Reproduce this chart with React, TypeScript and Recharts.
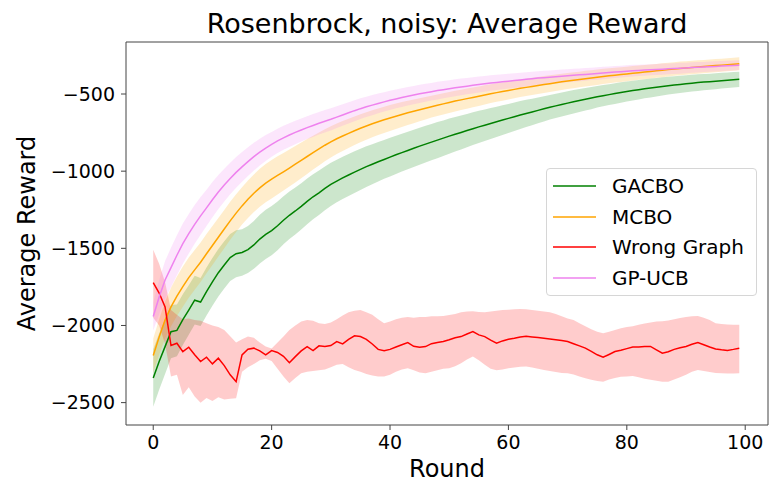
import {
  Area,
  ComposedChart,
  Label,
  Legend,
  Line,
  ReferenceArea,
  XAxis,
  YAxis,
} from "recharts";

// mean reward per round (0..99)
const GACBO_MEAN = [
  -2340, -2234, -2137, -2040, -2032, -1962, -1900, -1836, -1848, -1780,
  -1718, -1658, -1608, -1560, -1535, -1527, -1508, -1478, -1440, -1410,
  -1385, -1354, -1318, -1286, -1258, -1228, -1196, -1166, -1140, -1112,
  -1085, -1064, -1044, -1025, -1006, -988, -971, -955, -939, -924,
  -909, -894, -880, -866, -852, -838, -825, -812, -799, -786,
  -773, -761, -749, -737, -725, -713, -702, -691, -680, -669,
  -658, -647, -636, -626, -616, -606, -596, -586, -577, -568,
  -559, -550, -542, -534, -526, -518, -511, -504, -497, -490,
  -484, -478, -472, -466, -461, -456, -451, -446, -442, -438,
  -434, -430, -426, -423, -420, -417, -414, -411, -408, -405,
];
const GACBO_SD = [
  186, 182, 178, 172, 168, 164, 160, 158, 156, 155,
  155, 154, 153, 152, 152, 150, 152, 155, 158, 160,
  160, 158, 156, 154, 152, 150, 148, 146, 144, 142,
  140, 138, 137, 136, 135, 134, 132, 130, 128, 126,
  125, 124, 123, 122, 121, 120, 119, 118, 117, 115,
  114, 112, 110, 108, 106, 104, 102, 100, 98, 96,
  94, 92, 90, 88, 86, 84, 82, 80, 79, 78,
  77, 76, 75, 73, 72, 70, 69, 68, 67, 66,
  65, 64, 63, 62, 61, 60, 59, 58, 57, 56,
  55, 54, 54, 53, 52, 52, 51, 50, 50, 50,
];

const MCBO_MEAN = [
  -2195, -2075, -1965, -1880, -1810, -1748, -1690, -1640, -1590, -1535,
  -1482, -1428, -1375, -1322, -1272, -1225, -1182, -1143, -1108, -1078,
  -1052, -1028, -1004, -980, -955, -930, -905, -880, -856, -832,
  -810, -790, -772, -755, -738, -722, -707, -693, -680, -667,
  -655, -644, -633, -622, -612, -602, -592, -582, -573, -564,
  -555, -546, -538, -530, -522, -514, -506, -498, -491, -484,
  -477, -470, -463, -457, -451, -445, -439, -433, -427, -421,
  -416, -411, -406, -401, -396, -391, -386, -382, -378, -374,
  -370, -366, -362, -358, -354, -350, -346, -342, -338, -334,
  -331, -328, -325, -322, -319, -316, -313, -310, -307, -304,
];
const MCBO_SD = [
  110, 115, 120, 125, 128, 130, 130, 129, 128, 127,
  126, 125, 124, 123, 122, 121, 121, 122, 123, 124,
  125, 124, 122, 120, 118, 116, 113, 110, 107, 104,
  101, 99, 97, 95, 93, 91, 89, 87, 86, 85,
  84, 83, 81, 79, 77, 75, 73, 71, 70, 69,
  68, 67, 66, 65, 64, 63, 62, 61, 60, 59,
  58, 57, 57, 56, 56, 55, 55, 54, 54, 53,
  52, 52, 51, 51, 50, 50, 49, 49, 48, 48,
  47, 47, 46, 46, 46, 45, 45, 45, 44, 44,
  44, 44, 43, 43, 43, 43, 42, 42, 42, 42,
];

const WRONG_MEAN = [
  -1722, -1790, -1880, -2130, -2115, -2170, -2141, -2190, -2234, -2206,
  -2249, -2212, -2260, -2320, -2364, -2191, -2154, -2147, -2165, -2191,
  -2163, -2175, -2200, -2241, -2202, -2165, -2137, -2163, -2132, -2137,
  -2130, -2104, -2119, -2090, -2067, -2072, -2090, -2120, -2155, -2163,
  -2155, -2140, -2125, -2111, -2135, -2141, -2137, -2118, -2110, -2104,
  -2093, -2080, -2072, -2055, -2040, -2061, -2072, -2095, -2115, -2100,
  -2090, -2083, -2075, -2070, -2074, -2078, -2083, -2088, -2093, -2098,
  -2104, -2118, -2132, -2147, -2168, -2190, -2206, -2188, -2169, -2160,
  -2150, -2140, -2139, -2137, -2136, -2158, -2180, -2170, -2155, -2145,
  -2136, -2122, -2110, -2125, -2140, -2153, -2158, -2162, -2155, -2147,
];
const WRONG_HI = [
  -1510, -1600, -1720, -1900, -1930, -1960, -1955, -1964, -1970, -1985,
  -2000, -2010, -2030, -2070, -2110, -2089, -2072, -2080, -2110, -2137,
  -2150, -2110, -2072, -2029, -2000, -1975, -1964, -1970, -1985, -1990,
  -1980, -1960, -1935, -1915, -1905, -1900, -1915, -1930, -1960, -1985,
  -1975, -1960, -1950, -1945, -1950, -1945, -1945, -1940, -1940, -1938,
  -1932, -1925, -1915, -1910, -1908, -1912, -1915, -1910, -1905, -1900,
  -1898, -1895, -1893, -1895, -1900, -1905, -1910, -1915, -1925, -1940,
  -1955, -1965, -1985, -2005, -2025, -2040, -2050, -2040, -2029, -2018,
  -2010, -2005, -1996, -1988, -1980, -1975, -1972, -1968, -1960, -1952,
  -1945, -1940, -1938, -1950, -1965, -1985, -1990, -1993, -1995, -1996,
];
const WRONG_LO = [
  -1950, -2000, -2120, -2330, -2320, -2450, -2400, -2460, -2500, -2470,
  -2490, -2465, -2480, -2475, -2472, -2300, -2270, -2250, -2225, -2215,
  -2230, -2280, -2330, -2374, -2340, -2310, -2300, -2295, -2290, -2285,
  -2270, -2255, -2250, -2270, -2288, -2300, -2315, -2325, -2331, -2330,
  -2320, -2300, -2285, -2277, -2290, -2305, -2310, -2300, -2290, -2280,
  -2277, -2265, -2245, -2220, -2201, -2225, -2255, -2280, -2290, -2285,
  -2278, -2272, -2268, -2266, -2272, -2280, -2288, -2295, -2302, -2308,
  -2310, -2318, -2330, -2342, -2352, -2360, -2364, -2350, -2340, -2333,
  -2331, -2328, -2335, -2345, -2352, -2358, -2364, -2364, -2350, -2335,
  -2320, -2300, -2288, -2295, -2302, -2308, -2310, -2312, -2311, -2310,
];

const GPUCB_MEAN = [
  -1942, -1815, -1705, -1625, -1545, -1470, -1405, -1345, -1290, -1238,
  -1185, -1135, -1090, -1048, -1008, -972, -938, -906, -877, -850,
  -826, -804, -784, -766, -749, -733, -718, -704, -690, -677,
  -664, -650, -636, -622, -608, -595, -583, -572, -561, -551,
  -541, -532, -523, -515, -507, -499, -492, -485, -478, -472,
  -466, -460, -454, -449, -444, -439, -434, -429, -425, -421,
  -417, -413, -409, -405, -401, -397, -394, -391, -388, -385,
  -382, -379, -376, -373, -370, -367, -364, -361, -358, -355,
  -352, -349, -347, -345, -343, -341, -339, -337, -335, -333,
  -331, -329, -327, -325, -323, -321, -319, -317, -315, -313,
];
const GPUCB_SD = [
  90, 110, 122, 128, 130, 130, 128, 125, 122, 118,
  114, 110, 106, 102, 99, 96, 93, 90, 87, 84,
  80, 79, 78, 77, 76, 75, 74, 74, 73, 73,
  72, 71, 70, 69, 68, 67, 66, 65, 64, 63,
  62, 61, 61, 60, 59, 59, 58, 57, 57, 56,
  55, 55, 54, 53, 53, 52, 51, 50, 49, 49,
  48, 48, 47, 46, 46, 45, 45, 44, 43, 43,
  42, 42, 41, 41, 40, 40, 40, 39, 39, 38,
  38, 38, 37, 37, 36, 36, 36, 35, 35, 35,
  34, 34, 34, 33, 33, 33, 33, 32, 32, 32,
];

const SERIES_NAMES = ["GACBO", "MCBO", "Wrong Graph", "GP-UCB"];
const X_TICKS = [0, 20, 40, 60, 80, 100];
const Y_TICKS = [-2500, -2000, -1500, -1000, -500];
const X_DOMAIN: [number, number] = [-4.6, 103.85];
const Y_DOMAIN: [number, number] = [-2645, -163];

const FONT = "'DejaVu Sans', sans-serif";
const AXIS_COLOR = "#444";

const rows = GACBO_MEAN.map((_, round) => ({
  round,
  gacbo: GACBO_MEAN[round],
  gacboBand: [GACBO_MEAN[round] - GACBO_SD[round], GACBO_MEAN[round] + GACBO_SD[round]],
  mcbo: MCBO_MEAN[round],
  mcboBand: [MCBO_MEAN[round] - MCBO_SD[round], MCBO_MEAN[round] + MCBO_SD[round]],
  wrong: WRONG_MEAN[round],
  wrongBand: [WRONG_LO[round], WRONG_HI[round]],
  gpucb: GPUCB_MEAN[round],
  gpucbBand: [GPUCB_MEAN[round] - GPUCB_SD[round], GPUCB_MEAN[round] + GPUCB_SD[round]],
}));

const minus = (v: number) => (v < 0 ? "\u2212" + Math.abs(v) : String(v));

interface LegendItem {
  value: string;
  color: string;
  type?: string;
}

function LegendBox({ payload }: { payload?: LegendItem[] }) {
  // keep plotting order, not recharts' alphabetical one
  const items = (payload || [])
    .filter((p) => p.type !== "none")
    .sort((a, b) => SERIES_NAMES.indexOf(a.value) - SERIES_NAMES.indexOf(b.value));
  return (
    <div
      style={{
        width: 211,
        height: 128,
        boxSizing: "border-box",
        border: "1px solid #d6d6d6",
        borderRadius: 4,
        background: "rgba(255,255,255,0.85)",
        paddingTop: 2,
        fontFamily: FONT,
        fontSize: 20,
        color: "#000",
      }}
    >
      {items.map((item) => (
        <div key={item.value} style={{ display: "flex", alignItems: "center", height: 30.5 }}>
          <svg width={43} height={4} style={{ marginLeft: 6, flex: "none" }}>
            <line x1={0} y1={2} x2={43} y2={2} stroke={item.color} strokeWidth={1.5} />
          </svg>
          <span style={{ marginLeft: 16, whiteSpace: "nowrap" }}>{item.value}</span>
        </div>
      ))}
    </div>
  );
}

function YLabel(props: any) {
  const { viewBox } = props;
  const cy = viewBox.y + viewBox.height / 2;
  return (
    <text
      x={35}
      y={cy}
      transform={`rotate(-90, 35, ${cy})`}
      textAnchor="middle"
      fontSize={24}
      fontFamily={FONT}
      fill="#000"
    >
      Average Reward
    </text>
  );
}

export default function App() {
  return (
    <div
      style={{
        position: "absolute",
        left: 0,
        top: 0,
        width: 773,
        height: 482,
        background: "#fff",
        fontFamily: FONT,
      }}
    >
      <div
        style={{
          position: "absolute",
          left: 147,
          top: 10,
          width: 600,
          textAlign: "center",
          fontSize: 27,
          lineHeight: 1,
          color: "#000",
          zIndex: 2,
        }}
      >
        Rosenbrock, noisy: Average Reward
      </div>
      <ComposedChart
        width={773}
        height={482}
        data={rows}
        margin={{ top: 42, right: 5, bottom: 0, left: 0 }}
      >
        <XAxis
          dataKey="round"
          type="number"
          domain={X_DOMAIN}
          ticks={X_TICKS}
          allowDataOverflow
          height={57}
          axisLine={false}
          tickLine={{ stroke: AXIS_COLOR }}
          tickSize={5}
          tickMargin={6}
          tick={{ fontSize: 19, fill: "#000", fontFamily: FONT }}
        >
          <Label
            value="Round"
            position="insideBottom"
            offset={5}
            fontSize={24}
            fontFamily={FONT}
            fill="#000"
          />
        </XAxis>
        <YAxis
          type="number"
          domain={Y_DOMAIN}
          ticks={Y_TICKS}
          allowDataOverflow
          width={126}
          axisLine={false}
          tickLine={{ stroke: AXIS_COLOR }}
          tickSize={5}
          tickMargin={6}
          tickFormatter={minus}
          tick={{ fontSize: 19, fill: "#000", fontFamily: FONT }}
          label={<YLabel />}
        />

        <Area dataKey="gacboBand" type="linear" stroke="none" fill="green" fillOpacity={0.2} isAnimationActive={false} activeDot={false} legendType="none" />
        <Line dataKey="gacbo" name="GACBO" type="linear" stroke="green" strokeWidth={1.5} dot={false} isAnimationActive={false} />
        <Area dataKey="mcboBand" type="linear" stroke="none" fill="orange" fillOpacity={0.2} isAnimationActive={false} activeDot={false} legendType="none" />
        <Line dataKey="mcbo" name="MCBO" type="linear" stroke="orange" strokeWidth={1.5} dot={false} isAnimationActive={false} />
        <Area dataKey="wrongBand" type="linear" stroke="none" fill="red" fillOpacity={0.2} isAnimationActive={false} activeDot={false} legendType="none" />
        <Line dataKey="wrong" name="Wrong Graph" type="linear" stroke="red" strokeWidth={1.5} dot={false} isAnimationActive={false} />
        <Area dataKey="gpucbBand" type="linear" stroke="none" fill="violet" fillOpacity={0.2} isAnimationActive={false} activeDot={false} legendType="none" />
        <Line dataKey="gpucb" name="GP-UCB" type="linear" stroke="violet" strokeWidth={1.5} dot={false} isAnimationActive={false} />

        <ReferenceArea
          x1={X_DOMAIN[0]}
          x2={X_DOMAIN[1]}
          y1={Y_DOMAIN[0]}
          y2={Y_DOMAIN[1]}
          fill="none"
          stroke={AXIS_COLOR}
          strokeWidth={1}
          ifOverflow="visible"
        />

        <Legend
          layout="vertical"
          verticalAlign="middle"
          align="center"
          content={<LegendBox />}
          wrapperStyle={{ left: 546, top: 168, width: 211, height: 128 }}
        />
      </ComposedChart>
    </div>
  );
}
